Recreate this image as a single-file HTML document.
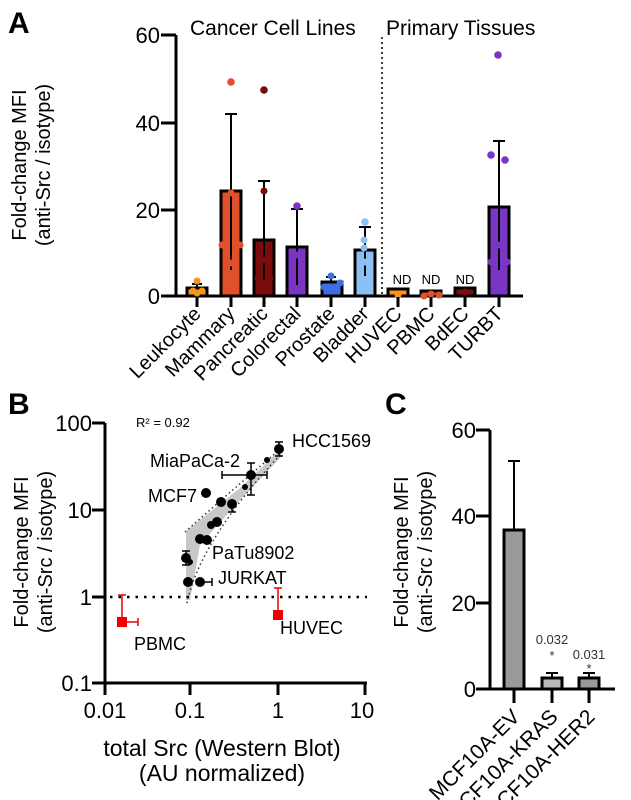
<!DOCTYPE html>
<html><head><style>
html,body{margin:0;padding:0;background:#fff}
svg{display:block;font-family:"Liberation Sans",Arial,sans-serif}
</style></head><body>
<svg width="631" height="800" viewBox="0 0 631 800" xmlns="http://www.w3.org/2000/svg">
<!-- Panel A -->
<text x="8" y="33" font-size="30" font-weight="bold">A</text>
<g transform="translate(48,165) rotate(-90)" font-size="20" text-anchor="middle">
<text x="0" y="-22">Fold-change MFI</text>
<text x="0" y="2">(anti-Src / isotype)</text>
</g>
<g font-size="22" text-anchor="end">
<text x="160" y="43">60</text><text x="160" y="131">40</text><text x="160" y="218">20</text><text x="160" y="304">0</text>
</g>
<g stroke="#000" stroke-width="3">
<line x1="176" y1="35" x2="176" y2="297"/>
<line x1="161" y1="35" x2="176" y2="35"/><line x1="161" y1="123" x2="176" y2="123"/>
<line x1="161" y1="210" x2="176" y2="210"/><line x1="161" y1="296" x2="523" y2="296"/>
</g>
<line x1="382" y1="37" x2="382" y2="296" stroke="#000" stroke-width="1.5" stroke-dasharray="2,3"/>
<text x="190" y="35" font-size="21">Cancer Cell Lines</text>
<text x="386" y="35" font-size="21">Primary Tissues</text>
<g stroke="#000" stroke-width="3">
<rect x="187" y="288" width="20" height="8" fill="#f7941d"/>
<rect x="221" y="191" width="20" height="105" fill="#e0502a"/>
<rect x="254" y="240" width="20" height="56" fill="#7a0c0c"/>
<rect x="287" y="247" width="20" height="49" fill="#7b35c4"/>
<rect x="322" y="282" width="20" height="14" fill="#3d6fe0"/>
<rect x="355" y="250" width="20" height="46" fill="#8cc0f2"/>
<rect x="388" y="289" width="20" height="7" fill="#f7941d"/>
<rect x="421" y="291" width="20" height="5" fill="#e0502a"/>
<rect x="455" y="288" width="20" height="8" fill="#7a0c0c"/>
<rect x="489" y="207" width="20" height="89" fill="#7b35c4"/>
</g>
<g stroke="#000" stroke-width="2" fill="none">
<path d="M197 288V284M192 284H202"/>
<path d="M231 191V114M225 114H237M231 270V191"/>
<path d="M264 240V181M258 181H270M264 280V240"/>
<path d="M297 247V209M291 209H303M297 285V247"/>
<path d="M331 282V277M326 277H336"/>
<path d="M365 250V227M359 227H371M365 276V250"/>
<path d="M499 207V141M493 141H505M499 270V207"/>
</g>
<g>
<g fill="#f7941d"><circle cx="197" cy="293" r="3.5"/><circle cx="193" cy="291" r="3.5"/><circle cx="202" cy="291" r="3.5"/><circle cx="197" cy="281" r="3.5"/><circle cx="398" cy="295" r="3.5"/></g>
<g fill="#e0502a"><circle cx="231" cy="82" r="3.8"/><circle cx="231" cy="193" r="3.5"/><circle cx="222" cy="245" r="3.5"/><circle cx="240" cy="245" r="3.5"/><circle cx="231" cy="263" r="3.5"/><circle cx="424" cy="296" r="3.5"/><circle cx="439" cy="295" r="3.5"/><circle cx="431" cy="294" r="3.5"/></g>
<g fill="#7a0c0c"><circle cx="264" cy="90" r="3.8"/><circle cx="264" cy="191" r="3.5"/><circle cx="258" cy="278" r="3.5"/><circle cx="270" cy="278" r="3.5"/><circle cx="264" cy="260" r="3.5"/><circle cx="465" cy="292" r="3.5"/></g>
<g fill="#7b35c4"><circle cx="297" cy="206" r="3.8"/><circle cx="297" cy="255" r="3.5"/><circle cx="297" cy="290" r="3.5"/><circle cx="498" cy="55" r="3.8"/><circle cx="491" cy="155" r="3.8"/><circle cx="505" cy="160" r="3.8"/><circle cx="494" cy="215" r="3.5"/><circle cx="504" cy="215" r="3.5"/><circle cx="499" cy="245" r="3.5"/><circle cx="491" cy="262" r="3.5"/><circle cx="507" cy="262" r="3.5"/></g>
<g fill="#3d6fe0"><circle cx="331" cy="276" r="3.5"/><circle cx="340" cy="283" r="3.5"/><circle cx="324" cy="287" r="3.5"/><circle cx="331" cy="290" r="3.5"/></g>
<g fill="#8cc0f2"><circle cx="365" cy="222" r="3.8"/><circle cx="364" cy="240" r="3.5"/><circle cx="364" cy="248" r="3.5"/><circle cx="365" cy="262" r="3.5"/></g>
</g>
<g font-size="13" text-anchor="middle"><text x="402" y="284">ND</text><text x="431" y="284">ND</text><text x="465" y="284">ND</text></g>
<g stroke="#000" stroke-width="3">
<path d="M197 297V307M231 297V307M264 297V307M297 297V307M331 297V307M365 297V307M398 297V307M431 297V307M465 297V307M499 297V307"/>
</g>
<g font-size="20" text-anchor="end">
<text transform="translate(202,315) rotate(-45)">Leukocyte</text>
<text transform="translate(236,315) rotate(-45)">Mammary</text>
<text transform="translate(269,315) rotate(-45)">Pancreatic</text>
<text transform="translate(302,315) rotate(-45)">Colorectal</text>
<text transform="translate(336,315) rotate(-45)">Prostate</text>
<text transform="translate(370,315) rotate(-45)">Bladder</text>
<text transform="translate(403,315) rotate(-45)">HUVEC</text>
<text transform="translate(436,315) rotate(-45)">PBMC</text>
<text transform="translate(470,315) rotate(-45)">BdEC</text>
<text transform="translate(504,315) rotate(-45)">TURBT</text>
</g>

<!-- Panel B -->
<text x="8" y="414" font-size="30" font-weight="bold">B</text>
<g transform="translate(50,552) rotate(-90)" font-size="20" text-anchor="middle">
<text x="0" y="-22">Fold-change MFI</text>
<text x="0" y="2">(anti-Src / isotype)</text>
</g>
<g font-size="22" text-anchor="end">
<text x="92" y="431">100</text><text x="92" y="518">10</text><text x="92" y="605">1</text><text x="92" y="691">0.1</text>
</g>
<g font-size="22" text-anchor="middle">
<text x="105" y="718">0.01</text><text x="190" y="718">0.1</text><text x="278" y="718">1</text><text x="362" y="718">10</text>
</g>
<g font-size="23" text-anchor="middle"><text x="222" y="756">total Src (Western Blot)</text><text x="222" y="781">(AU normalized)</text></g>
<text x="136" y="427" font-size="13">R² = 0.92</text>
<g stroke="#000" stroke-width="3">
<line x1="105" y1="423" x2="105" y2="685"/>
<path d="M92 423H105M92 510H105M92 597H105M92 683H367"/>
<path d="M105 683V695M190 683V695M278 683V695M365 683V695"/>
</g>
<polygon points="186,531 240,488 280,450 282,456 240,500 200,545 190,600 186,600" fill="#c8c8c8"/>
<g stroke="#333" stroke-width="1.5" stroke-dasharray="1.5,3" fill="none">
<path d="M185 532 Q230 492 278 451"/><path d="M187 603 Q200 540 282 453"/>
</g>
<line x1="110" y1="597" x2="367" y2="597" stroke="#000" stroke-width="2.5" stroke-dasharray="2.5,6"/>
<g stroke="#000" stroke-width="1.5" fill="none">
<path d="M279 442V456M275 442H283M275 456H283"/>
<path d="M222 475H267M222 471V479M267 471V479M251 463V495M247 463H255M247 495H255"/>
<path d="M232 512V504M228 512H236"/>
<path d="M186 551V565M182 551H190M182 565H190"/>
<path d="M200 582H212M212 578V586"/>
</g>
<g fill="#000">
<circle cx="279" cy="449" r="5"/><circle cx="251" cy="475" r="5"/><circle cx="267" cy="460" r="3"/><circle cx="245" cy="487" r="3"/>
<circle cx="206" cy="493" r="5"/><circle cx="221" cy="502" r="5"/><circle cx="232" cy="504" r="5"/><circle cx="217" cy="522" r="5"/><circle cx="211" cy="525" r="4"/>
<circle cx="200" cy="539" r="5"/><circle cx="207" cy="540" r="5"/><circle cx="186" cy="558" r="5"/><circle cx="190" cy="562" r="3"/>
<circle cx="188" cy="582" r="5"/><circle cx="200" cy="582" r="5"/>
</g>
<g stroke="#e00" stroke-width="1.5" fill="none">
<path d="M122 622V595M118 595H126M122 622H138M138 618V626"/>
<path d="M278 615V588M274 588H282"/>
</g>
<rect x="117" y="617" width="10" height="10" fill="#e00"/>
<rect x="273" y="610" width="10" height="10" fill="#e00"/>
<g font-size="18">
<text x="292" y="447">HCC1569</text>
<text x="240" y="467" text-anchor="end">MiaPaCa-2</text>
<text x="197" y="502" text-anchor="end">MCF7</text>
<text x="212" y="559">PaTu8902</text>
<text x="218" y="584">JURKAT</text>
<text x="134" y="650">PBMC</text>
<text x="280" y="634">HUVEC</text>
</g>

<!-- Panel C -->
<text x="385" y="414" font-size="30" font-weight="bold">C</text>
<g transform="translate(428,552) rotate(-90)" font-size="20" text-anchor="middle">
<text x="0" y="-20">Fold-change MFI</text>
<text x="0" y="4">(anti-Src / isotype)</text>
</g>
<g font-size="22" text-anchor="end">
<text x="476" y="438">60</text><text x="476" y="524">40</text><text x="476" y="611">20</text><text x="476" y="697">0</text>
</g>
<g stroke="#000" stroke-width="3">
<line x1="490" y1="430" x2="490" y2="690"/>
<path d="M476 430H490M476 516H490M476 603H490M476 689H615"/>
<path d="M514 690V703M552 690V703M589 690V703"/>
</g>
<g stroke="#000" stroke-width="3">
<rect x="504" y="530" width="20" height="159" fill="#999"/>
<rect x="542" y="678" width="20" height="11" fill="#bbb"/>
<rect x="579" y="678" width="20" height="11" fill="#999"/>
</g>
<g stroke="#000" stroke-width="2" fill="none">
<path d="M514 530V461M508 461H520M552 678V673M546 673H558M589 678V673M583 673H595"/>
</g>
<g font-size="13" text-anchor="middle" fill="#333">
<text x="552" y="644">0.032</text><text x="552" y="660">*</text>
<text x="589" y="659">0.031</text><text x="589" y="673">*</text>
</g>
<g font-size="21" text-anchor="end">
<text transform="translate(521,718) rotate(-45)">MCF10A-EV</text>
<text transform="translate(559,718) rotate(-45)">MCF10A-KRAS</text>
<text transform="translate(596,718) rotate(-45)">MCF10A-HER2</text>
</g>
</svg>
</body></html>
